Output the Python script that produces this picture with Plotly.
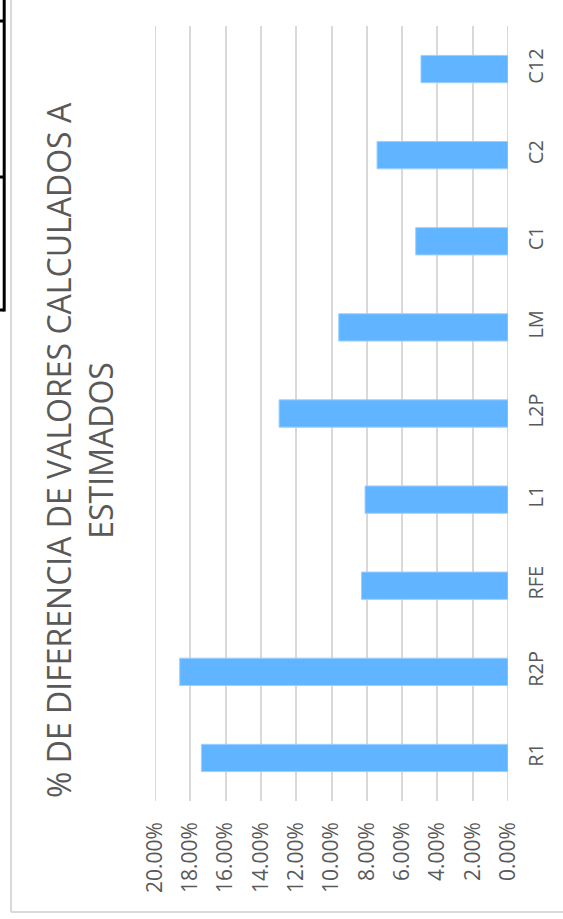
import plotly.graph_objects as go

# Percentage difference between calculated and estimated values
categories = ["R1", "R2P", "RFE", "L1", "L2P", "LM", "C1", "C2", "C12"]
diff_pct = [0.1737, 0.1860, 0.0830, 0.0810, 0.1297, 0.0959, 0.0523, 0.0742, 0.0493]
value_ticks = [0.00, 0.02, 0.04, 0.06, 0.08, 0.10, 0.12, 0.14, 0.16, 0.18, 0.20]
title_lines = ["% DE DIFERENCIA DE VALORES CALCULADOS A", "ESTIMADOS"]

W, H = 563, 919
L, R, T, B = 155, 55, 26, 118
PW, PH = W - L - R, H - T - B


def px_x(px):
    return (px - L) / PW


def px_y(py):
    return (H - B - py) / PH


TEXT = "#595959"
GRID = "#d9d9d9"
FONT = "Open Sans"

fig = go.Figure(
    go.Bar(
        x=diff_pct,
        y=categories,
        orientation="h",
        marker=dict(color="#61B4FF", line=dict(color="#9ccfff", width=1)),
        hoverinfo="skip",
    )
)

fig.update_layout(
    width=W,
    height=H,
    margin=dict(l=L, r=R, t=T, b=B, pad=0),
    paper_bgcolor="white",
    plot_bgcolor="white",
    showlegend=False,
    bargap=0.683,
    font=dict(family=FONT, color=TEXT),
)

fig.update_xaxes(
    range=[value_ticks[-1], value_ticks[0]],
    tickvals=value_ticks,
    tickformat=".2%",
    tickangle=-90,
    tickfont=dict(family=FONT, size=21, color=TEXT),
    showgrid=True,
    gridcolor=GRID,
    gridwidth=2,
    zeroline=False,
    showline=False,
    ticks="",
    ticklabelstandoff=16,
)

fig.update_yaxes(
    side="right",
    tickangle=-90,
    tickfont=dict(family=FONT, size=20, color=TEXT),
    showgrid=False,
    showline=False,
    ticks="",
    ticklabelstandoff=14,
)

# Gridlines at the two ends of the value range (the axis hides edge gridlines)
for v in (value_ticks[0], value_ticks[-1]):
    fig.add_shape(type="line", xref="x", yref="paper",
                  x0=v, x1=v, y0=0, y1=1, layer="below",
                  line=dict(color=GRID, width=2))

# Rotated chart title
fig.add_annotation(
    text="<br>".join(title_lines),
    xref="paper",
    yref="paper",
    x=px_x(79),
    y=px_y(450),
    xanchor="center",
    yanchor="middle",
    textangle=-90,
    showarrow=False,
    font=dict(family=FONT, size=32, color=TEXT),
    align="center",
)

# Chart area frame (left and bottom edges)
fig.add_shape(type="line", xref="paper", yref="paper",
              x0=px_x(11), x1=px_x(11), y0=px_y(0), y1=px_y(912),
              line=dict(color=GRID, width=2))
fig.add_shape(type="line", xref="paper", yref="paper",
              x0=px_x(11), x1=px_x(563), y0=px_y(912), y1=px_y(912),
              line=dict(color=GRID, width=2))

# Edge of the neighbouring table
fig.add_shape(type="line", xref="paper", yref="paper",
              x0=px_x(4.2), x1=px_x(4.2), y0=px_y(0), y1=px_y(311.5),
              line=dict(color="black", width=3))
for yy in (21, 177, 310):
    fig.add_shape(type="line", xref="paper", yref="paper",
                  x0=px_x(0), x1=px_x(4.2), y0=px_y(yy), y1=px_y(yy),
                  line=dict(color="black", width=3))

fig.write_html("out.html")
